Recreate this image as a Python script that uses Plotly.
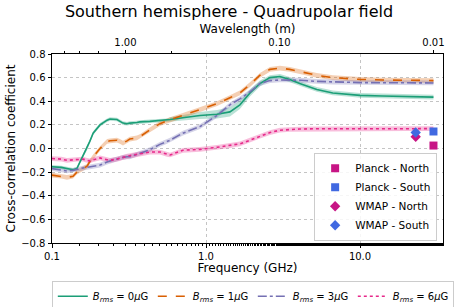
import numpy as np
import plotly.graph_objects as go

# ---------------- data ----------------
freq = [0.10, 0.115, 0.125, 0.137, 0.145, 0.159, 0.169, 0.176, 0.185, 0.205, 0.228, 0.238,
        0.264, 0.276, 0.289, 0.307, 0.32, 0.356, 0.372, 0.432, 0.502, 0.558, 0.584, 0.708,
        0.914, 1.18, 1.43, 1.66, 1.93, 2.24, 2.60, 3.02, 3.50, 4.06, 5.24, 6.66, 8.6, 10.0,
        14.0, 20.0, 30.0]

b0 = [-0.155, -0.16, -0.17, -0.18, -0.17, -0.06, 0.0, 0.06, 0.13, 0.20, 0.24, 0.25,
      0.245, 0.23, 0.215, 0.21, 0.215, 0.22, 0.225, 0.23, 0.235, 0.24, 0.245, 0.26,
      0.28, 0.29, 0.31, 0.37, 0.47, 0.55, 0.60, 0.61, 0.585, 0.55, 0.50, 0.47, 0.458, 0.45,
      0.445, 0.44, 0.435]
b1 = [-0.225, -0.235, -0.245, -0.235, -0.20, -0.17, -0.15, -0.11, -0.07, 0.0, 0.06, 0.065,
      0.07, 0.06, 0.045, 0.065, 0.08, 0.09, 0.10, 0.157, 0.21, 0.235, 0.245, 0.28,
      0.33, 0.38, 0.43, 0.47, 0.54, 0.62, 0.67, 0.68, 0.67, 0.65, 0.62, 0.60, 0.59, 0.585,
      0.58, 0.578, 0.575]
b3 = [-0.17, -0.18, -0.19, -0.185, -0.175, -0.165, -0.16, -0.155, -0.15, -0.14, -0.115, -0.105,
      -0.09, -0.08, -0.075, -0.07, -0.07, -0.05, -0.04, -0.01, 0.035, 0.06, 0.07, 0.13,
      0.185, 0.28, 0.37, 0.42, 0.48, 0.55, 0.575, 0.58, 0.58, 0.578, 0.568, 0.562, 0.56, 0.558,
      0.557, 0.556, 0.555]
b6 = [-0.085, -0.09, -0.10, -0.095, -0.09, -0.09, -0.10, -0.105, -0.095, -0.08, -0.095, -0.10,
      -0.09, -0.085, -0.075, -0.065, -0.06, -0.05, -0.045, -0.03, -0.03, -0.05, -0.055, -0.015,
      -0.007, 0.01, 0.025, 0.04, 0.07, 0.105, 0.135, 0.155, 0.162, 0.165, 0.167, 0.168, 0.168, 0.168,
      0.168, 0.168, 0.168]
err = [0.02] * len(freq)
err0 = [0.015, 0.015, 0.015, 0.015, 0.015, 0.015, 0.015, 0.015, 0.015, 0.015, 0.015, 0.015,
        0.015, 0.015, 0.015, 0.015, 0.015, 0.015, 0.015, 0.015, 0.015, 0.015, 0.02, 0.025,
        0.03, 0.035, 0.04, 0.035, 0.03, 0.025, 0.02, 0.02, 0.02, 0.02, 0.02, 0.02, 0.02, 0.02,
        0.02, 0.02, 0.02]

series_names = ["<i>B</i><sub><i>rms</i></sub> = 0<i>μ</i>G", "<i>B</i><sub><i>rms</i></sub> = 1<i>μ</i>G",
                "<i>B</i><sub><i>rms</i></sub> = 3<i>μ</i>G", "<i>B</i><sub><i>rms</i></sub> = 6<i>μ</i>G"]

obs_names = ["Planck - North", "Planck - South", "WMAP - North", "WMAP - South"]
obs_freq = [30.0, 30.0, 23.0, 23.0]
obs_val = [0.025, 0.144, 0.10, 0.136]

ytick_vals = [-0.8, -0.6, -0.4, -0.2, 0.0, 0.2, 0.4, 0.6, 0.8]
xtick_vals = [0.1, 1.0, 10.0]
xtick_text = ["0.1", "1.0", "10.0"]
wl_tick_vals = [1.0, 0.1, 0.01]
wl_tick_text = ["1.00", "0.10", "0.01"]

# ---------------- styling ----------------
colors = ["#1b9e77", "#d95f02", "#7570b3", "#e7298a"]
fills = ["rgba(27,158,119,0.3)", "rgba(217,95,2,0.3)", "rgba(117,112,179,0.3)", "rgba(231,41,138,0.3)"]
dashes = ["solid", "dash", "dashdot", "dot"]
obs_colors = ["#C71585", "#4169E1", "#C71585", "#4169E1"]
obs_symbols = ["square", "square", "diamond", "diamond"]

FONT = "DejaVu Sans"
C = 0.299792458

fig = go.Figure()
ys = [b0, b1, b3, b6]
errs = [err0, err, err, err]
for i in range(4):
    y = np.array(ys[i]); e = np.array(errs[i])
    fig.add_trace(go.Scatter(x=freq + freq[::-1], y=list(y + e) + list((y - e)[::-1]),
                             fill="toself", fillcolor=fills[i], line=dict(width=0),
                             hoverinfo="skip", showlegend=False))
for i in range(4):
    fig.add_trace(go.Scatter(x=freq, y=ys[i], mode="lines", name=series_names[i],
                             line=dict(color=colors[i], width=1.6, dash=dashes[i]),
                             legend="legend"))
for i in range(4):
    fig.add_trace(go.Scatter(x=[obs_freq[i]], y=[obs_val[i]], mode="markers", name=obs_names[i],
                             marker=dict(color=obs_colors[i], symbol=obs_symbols[i], size=8),
                             legend="legend2"))

# dummy trace for the top axis
fig.add_trace(go.Scatter(x=[1.0], y=[0], xaxis="x2", mode="markers", opacity=0,
                         showlegend=False, hoverinfo="skip"))

xmin_log = -1.0
xmax_log = 1.539
grid = "#c4c4c4"
fig.update_layout(
    width=458, height=307,
    margin=dict(l=52, r=15, t=54, b=64, autoexpand=False),
    paper_bgcolor="white", plot_bgcolor="white",
    font=dict(family=FONT, size=10, color="black"),
    title=dict(text="Southern hemisphere - Quadrupolar field", x=0.5, xanchor="center",
               y=0.962, yanchor="middle", font=dict(size=16, family=FONT)),
    xaxis=dict(type="log", range=[xmin_log, xmax_log], tickvals=xtick_vals, ticktext=xtick_text,
               ticks="outside", ticklen=3.5, tickcolor="black", showline=True, linecolor="black",
               linewidth=1, mirror=False, showgrid=True, gridcolor=grid, griddash="dot",
               gridwidth=1, zeroline=False, automargin=False,
               minor=dict(ticks="outside", ticklen=2, tickcolor="black", showgrid=False),
               title=dict(text="Frequency (GHz)", font=dict(size=12), standoff=2)),
    xaxis2=dict(type="log", overlaying="x", side="top",
                range=[np.log10(C) - xmin_log, np.log10(C) - xmax_log],
                tickvals=wl_tick_vals, ticktext=wl_tick_text, ticks="outside", ticklen=3.5,
                tickcolor="black", showline=True, linecolor="black", linewidth=1, showgrid=False,
                zeroline=False, automargin=False,
                minor=dict(ticks="outside", ticklen=2, tickcolor="black", showgrid=False),
                title=dict(text="Wavelength (m)", font=dict(size=12), standoff=0)),
    yaxis=dict(range=[-0.8, 0.8], tickvals=ytick_vals, tickformat=".1f", ticks="outside",
               ticklen=3.5, tickcolor="black", showline=True, linecolor="black", linewidth=1,
               mirror=True, showgrid=True, gridcolor=grid, griddash="dot", gridwidth=1,
               zeroline=False, automargin=False,
               title=dict(text="Cross-correlation coefficient", font=dict(size=12), standoff=3)),
    legend=dict(orientation="h", x=-0.0005, xanchor="left", y=-0.2, yanchor="top",
                bgcolor="white", bordercolor="#cccccc", borderwidth=1, font=dict(size=10),
                itemwidth=30, entrywidth=55, tracegroupgap=0),
    legend2=dict(x=0.985, xanchor="right", y=0.012, yanchor="bottom",
                 bgcolor="rgba(255,255,255,0.85)", bordercolor="#cccccc", borderwidth=1,
                 font=dict(size=10.5), itemwidth=30, tracegroupgap=0),
    showlegend=True,
)

fig.write_html("out.html", config={"displayModeBar": False},
               post_script="document.body.style.margin='0px';")
